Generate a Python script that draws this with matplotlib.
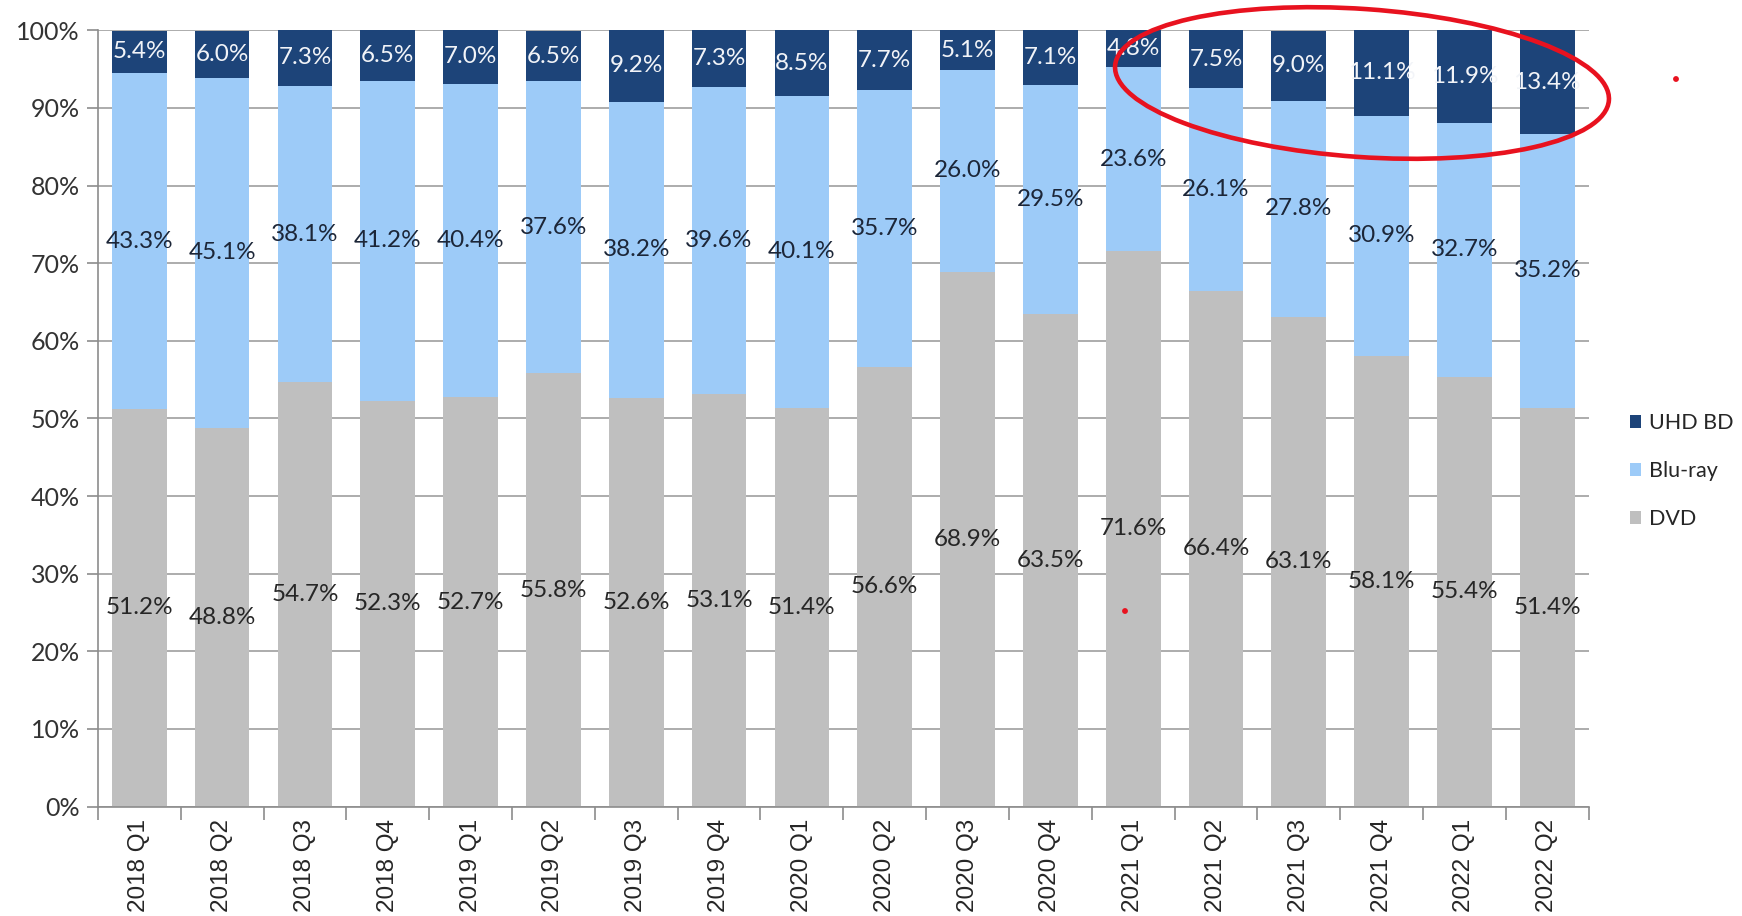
import numpy as np
import matplotlib
matplotlib.use("Agg")
import matplotlib.pyplot as plt
from matplotlib.patches import Ellipse, Circle
from matplotlib.ticker import FixedLocator, PercentFormatter

quarters = ["2018 Q1", "2018 Q2", "2018 Q3", "2018 Q4",
            "2019 Q1", "2019 Q2", "2019 Q3", "2019 Q4",
            "2020 Q1", "2020 Q2", "2020 Q3", "2020 Q4",
            "2021 Q1", "2021 Q2", "2021 Q3", "2021 Q4",
            "2022 Q1", "2022 Q2"]
dvd = [51.2, 48.8, 54.7, 52.3, 52.7, 55.8, 52.6, 53.1, 51.4,
       56.6, 68.9, 63.5, 71.6, 66.4, 63.1, 58.1, 55.4, 51.4]
bluray = [43.3, 45.1, 38.1, 41.2, 40.4, 37.6, 38.2, 39.6, 40.1,
          35.7, 26.0, 29.5, 23.6, 26.1, 27.8, 30.9, 32.7, 35.2]
uhd = [5.4, 6.0, 7.3, 6.5, 7.0, 6.5, 9.2, 7.3, 8.5,
       7.7, 5.1, 7.1, 4.8, 7.5, 9.0, 11.1, 11.9, 13.4]

c_dvd = '#bfbfbf'
c_blu = '#9dcbf8'
c_uhd = '#1d4479'

fig = plt.figure(figsize=(17.42, 9.16), dpi=100)
ax = fig.add_axes([0.0562, 0.1194, 0.8558, 0.8476])

x = np.arange(len(quarters))
w = 0.66
dvd_a = np.array(dvd)
blu_a = np.array(bluray)
uhd_a = np.array(uhd)

b1 = ax.bar(x, dvd_a, w, color=c_dvd, label='DVD', zorder=2)
b2 = ax.bar(x, blu_a, w, bottom=dvd_a, color=c_blu, label='Blu-ray', zorder=2)
b3 = ax.bar(x, uhd_a, w, bottom=dvd_a + blu_a, color=c_uhd, label='UHD BD', zorder=2)

lbl_font = 'Lato'
fs = 17.5
for i in x:
    ax.text(i, dvd_a[i] / 2, f"{dvd_a[i]:.1f}%", ha='center', va='center',
            fontsize=fs, color='#262626', family=lbl_font, zorder=3)
    ax.text(i, dvd_a[i] + blu_a[i] / 2, f"{blu_a[i]:.1f}%", ha='center', va='center',
            fontsize=fs, color='#1c2638', family=lbl_font, zorder=3)
    ax.text(i, dvd_a[i] + blu_a[i] + uhd_a[i] / 2, f"{uhd_a[i]:.1f}%", ha='center',
            va='center', fontsize=fs, color='#f2f4f8', family=lbl_font, zorder=3)

ax.set_xlim(-0.5, len(quarters) - 0.5)
ax.set_ylim(0, 100)
ax.set_yticks(np.arange(0, 101, 10))
ax.yaxis.set_major_formatter(PercentFormatter(decimals=0))
ax.grid(axis='y', color='#a6a6a6', linewidth=1.3, zorder=0)
ax.set_axisbelow(True)

ax.set_xticks(x)
ax.set_xticklabels(quarters, rotation=90, fontsize=17.5, family='Liberation Sans',
                   color='#262626')
ax.tick_params(axis='x', which='major', length=0, pad=9)
ax.xaxis.set_minor_locator(FixedLocator(np.arange(-0.5, len(quarters), 1)))
ax.tick_params(axis='x', which='minor', length=9, color='#8c8c8c', width=1.2)
ax.tick_params(axis='y', length=8, color='#8c8c8c', width=1.2, pad=5)
for t in ax.get_yticklabels():
    t.set_fontsize(18)
    t.set_family(lbl_font)
    t.set_color('#333333')

for s in ['top', 'right']:
    ax.spines[s].set_visible(False)
ax.spines['left'].set_color('#8c8c8c')
ax.spines['bottom'].set_color('#8c8c8c')
ax.spines['left'].set_linewidth(1.2)
ax.spines['bottom'].set_linewidth(1.2)

leg = fig.legend(handles=[b3, b2, b1], labels=['UHD BD', 'Blu-ray', 'DVD'],
                 loc='center left', bbox_to_anchor=(0.9355, 0.486),
                 bbox_transform=fig.transFigure, frameon=False,
                 borderpad=0, borderaxespad=0,
                 handlelength=0.55, handleheight=0.55, handletextpad=0.35,
                 labelspacing=1.3, prop={'family': lbl_font, 'size': 15.5})
for t in leg.get_texts():
    t.set_color('#262626')

# red hand-drawn markup on the original picture
fig.add_artist(Ellipse((13.62, 8.33), 4.95, 1.48, angle=-4, fill=False,
                       edgecolor='#e8121f', linewidth=3.3,
                       transform=fig.dpi_scale_trans))
fig.add_artist(Circle((16.76, 9.16 - 0.79), 0.022, color='#e8121f',
                      transform=fig.dpi_scale_trans))
fig.add_artist(Circle((11.25, 9.16 - 6.11), 0.022, color='#e8121f',
                      transform=fig.dpi_scale_trans))

fig.savefig('out.png', dpi=100)
